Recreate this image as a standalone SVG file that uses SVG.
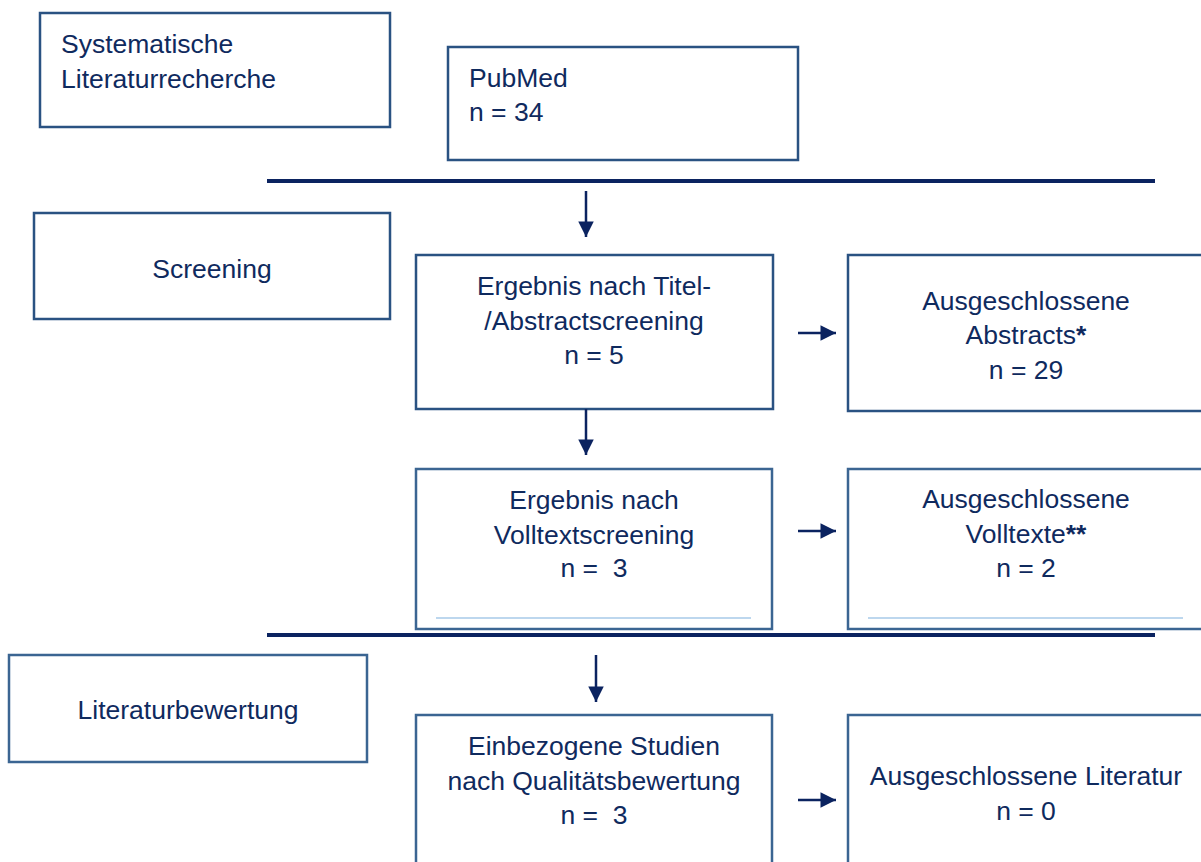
<svg xmlns="http://www.w3.org/2000/svg" width="1201" height="862" viewBox="0 0 1201 862">
<defs>
<style>
.box{fill:#ffffff;stroke:#3b6592;stroke-width:2.5}
.dark{stroke:#2a5282}
.t{font-family:"Liberation Sans",Arial,sans-serif;font-size:26.5px;fill:#0f2a5e}
.c{text-anchor:middle}
.b{font-weight:bold}
.sep{stroke:#0b2360;stroke-width:4}
.con{stroke:#0b2360;stroke-width:2.5;fill:none}
.inner{stroke:#bdd7ee;stroke-width:2}
</style>
<marker id="ah" viewBox="0 0 10 10" refX="10" refY="5" markerWidth="6.4" markerHeight="6.2" markerUnits="strokeWidth" orient="auto">
<path d="M0,0 L10,5 L0,10 Z" fill="#0b2360"/>
</marker>
</defs>
<rect width="1201" height="862" fill="#ffffff"/>

<g id="separators">
<line class="sep" x1="267" y1="181" x2="1155" y2="181"/>
<line class="sep" x1="267" y1="635" x2="1155" y2="635"/>
</g>

<g id="node-systematische">
<rect class="box dark" x="40" y="13" width="350" height="114"/>
<text class="t" x="61" y="53">Systematische</text>
<text class="t" x="61" y="88">Literaturrecherche</text>
</g>

<g id="node-pubmed">
<rect class="box dark" x="448" y="47" width="350" height="113"/>
<text class="t" x="469" y="87">PubMed</text>
<text class="t" x="469" y="121">n = 34</text>
</g>

<g id="node-screening">
<rect class="box dark" x="34" y="213" width="356" height="106"/>
<text class="t c" x="212" y="278">Screening</text>
</g>

<g id="node-titel">
<rect class="box dark" x="416" y="255" width="357" height="154"/>
<text class="t c" x="594" y="295">Ergebnis nach Titel-</text>
<text class="t c" x="594" y="330">/Abstractscreening</text>
<text class="t c" x="594" y="364">n = 5</text>
</g>

<g id="node-ausg-abstracts">
<rect class="box dark" x="848" y="255" width="360" height="156"/>
<text class="t c" x="1026" y="310">Ausgeschlossene</text>
<text class="t c" x="1026" y="344">Abstracts<tspan class="b">*</tspan></text>
<text class="t c" x="1026" y="379">n = 29</text>
</g>

<g id="node-volltext">
<rect class="box" x="416" y="469" width="356" height="160"/>
<line class="inner" x1="436" y1="618" x2="751" y2="618"/>
<text class="t c" x="594" y="509">Ergebnis nach</text>
<text class="t c" x="594" y="544">Volltextscreening</text>
<text class="t c" x="594" y="577" xml:space="preserve">n =  3</text>
</g>

<g id="node-ausg-volltexte">
<rect class="box" x="848" y="469" width="360" height="160"/>
<line class="inner" x1="868" y1="618" x2="1183" y2="618"/>
<text class="t c" x="1026" y="508">Ausgeschlossene</text>
<text class="t c" x="1026" y="543">Volltexte<tspan class="b">**</tspan></text>
<text class="t c" x="1026" y="577">n = 2</text>
</g>

<g id="node-literaturbewertung">
<rect class="box" x="9" y="655" width="358" height="107"/>
<text class="t c" x="188" y="719">Literaturbewertung</text>
</g>

<g id="node-einbezogene">
<rect class="box" x="416" y="715" width="356" height="160"/>
<text class="t c" x="594" y="755">Einbezogene Studien</text>
<text class="t c" x="594" y="790">nach Qualitätsbewertung</text>
<text class="t c" x="594" y="824" xml:space="preserve">n =  3</text>
</g>

<g id="node-ausg-literatur">
<rect class="box" x="848" y="715" width="360" height="160"/>
<text class="t c" x="1026" y="785">Ausgeschlossene Literatur</text>
<text class="t c" x="1026" y="820">n = 0</text>
</g>

<g id="connectors">
<line class="con" x1="586" y1="191" x2="586" y2="237" marker-end="url(#ah)"/>
<line class="con" x1="586" y1="409" x2="586" y2="455" marker-end="url(#ah)"/>
<line class="con" x1="596" y1="655" x2="596" y2="702" marker-end="url(#ah)"/>
<line class="con" x1="798" y1="333" x2="836" y2="333" marker-end="url(#ah)"/>
<line class="con" x1="798" y1="531" x2="836" y2="531" marker-end="url(#ah)"/>
<line class="con" x1="798" y1="800" x2="836" y2="800" marker-end="url(#ah)"/>
</g>
</svg>
